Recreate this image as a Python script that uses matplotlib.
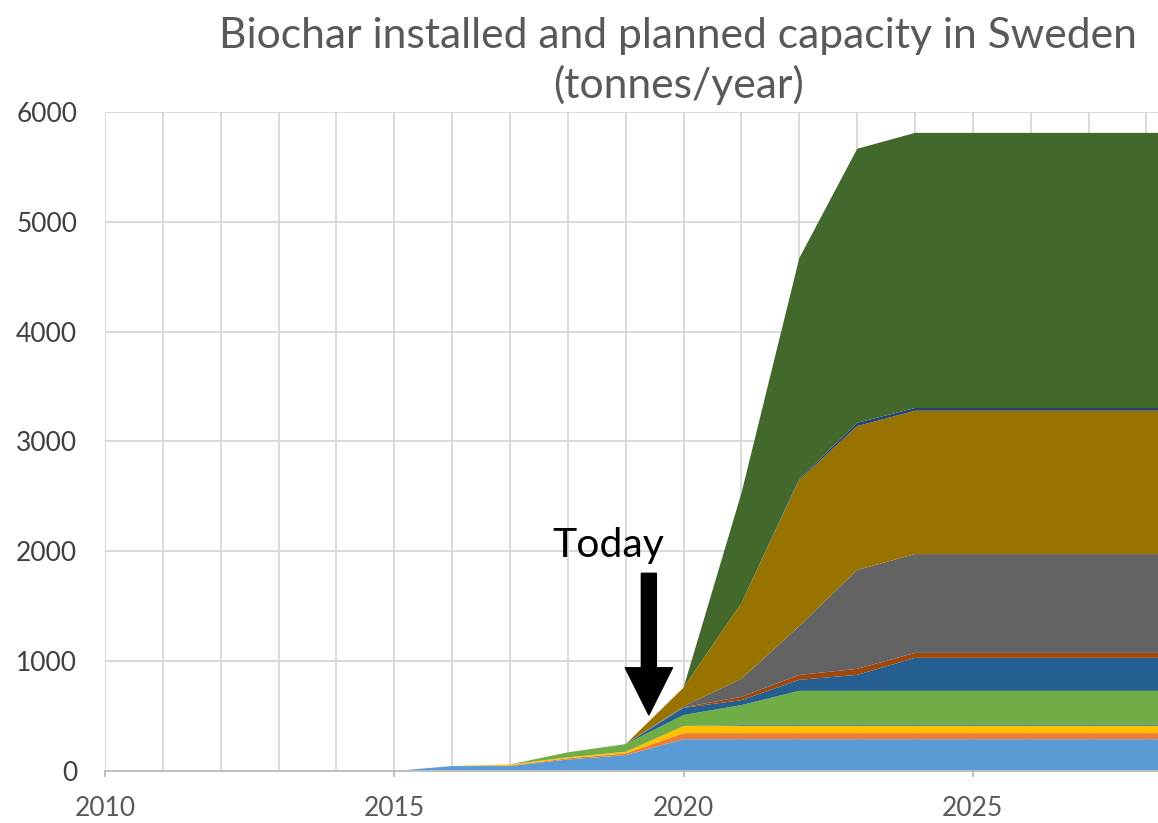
import numpy as np
import matplotlib.pyplot as plt

# -----------------------------
# Data (tonnes/year), stacked bottom -> top
# -----------------------------
years = [2015, 2016, 2017, 2018, 2019, 2020, 2021, 2022, 2023, 2024, 2025, 2026, 2027, 2028, 2029]

s1 = [0, 45, 45, 105, 145, 290, 290, 290, 290, 290, 290, 290, 290, 290, 290]
s2 = [0, 0, 5, 10, 15, 55, 55, 55, 55, 55, 55, 55, 55, 55, 55]
s3 = [0, 0, 10, 10, 15, 65, 65, 65, 65, 65, 65, 65, 65, 65, 65]
s4 = [0, 0, 0, 0, 0, 0, 8, 8, 8, 8, 8, 8, 8, 8, 8]
s5 = [0, 0, 0, 45, 70, 100, 182, 312, 312, 312, 312, 312, 312, 312, 312]
s6 = [0, 0, 0, 0, 0, 65, 45, 100, 145, 300, 300, 300, 300, 300, 300]
s7 = [0, 0, 0, 0, 0, 5, 30, 45, 55, 45, 45, 45, 45, 45, 45]
s8 = [0, 0, 0, 0, 0, 10, 165, 445, 900, 900, 900, 900, 900, 900, 900]
s9 = [0, 0, 0, 0, 0, 170, 690, 1330, 1310, 1305, 1305, 1305, 1305, 1305, 1305]
s10 = [0, 0, 0, 0, 0, 0, 0, 10, 30, 25, 25, 25, 25, 25, 25]
s11 = [0, 0, 0, 0, 0, 0, 1000, 2010, 2495, 2505, 2505, 2505, 2505, 2505, 2505]

series = [s1, s2, s3, s4, s5, s6, s7, s8, s9, s10, s11]
colors = ["#5B9BD5", "#ED7D31", "#FFC000", "#4472C4", "#70AD47", "#255E91",
          "#9E480E", "#636363", "#997300", "#264478", "#43682B"]

y_ticks = [0, 1000, 2000, 3000, 4000, 5000, 6000]
x_ticks = [2010, 2015, 2020, 2025]

# -----------------------------
# Plot
# -----------------------------
plt.rcParams['font.family'] = ['Lato', 'DejaVu Sans']

fig = plt.figure(figsize=(11.58, 8.23), dpi=100)
ax = fig.add_axes([0.0907, 0.0632, 0.9093, 0.8007])

ax.stackplot(years, *series, colors=colors, linewidth=0, zorder=2)

ax.set_xlim(2010, 2028.2)
ax.set_ylim(0, 6000)

# gridlines
for yr in range(2010, 2029):
    ax.axvline(yr, color="#D9D9D9", linewidth=1.4, zorder=1)
for v in y_ticks[1:]:
    ax.axhline(v, color="#D9D9D9", linewidth=1.4, zorder=1)

ax.set_xticks(x_ticks)
ax.set_yticks(y_ticks)
ax.tick_params(axis="x", colors="#BFBFBF", length=4, width=1.4, labelcolor="#595959",
               labelsize=19, pad=14)
ax.tick_params(axis="y", length=0, labelcolor="#404040", labelsize=19, pad=20)

for side in ["top", "right", "left"]:
    ax.spines[side].set_visible(False)
ax.spines["bottom"].set_color("#BFBFBF")
ax.spines["bottom"].set_linewidth(1.4)
ax.spines["bottom"].set_zorder(3)

fig.text(0.5855, 0.926, "Biochar installed and planned capacity in Sweden\n(tonnes/year)",
         ha="center", va="center", fontsize=30.7, color="#595959", linespacing=1.32)

# "Today" marker
ax.text(2018.70, 1950, "Today", fontsize=29.5, color="black", ha="center", va="baseline")
ax.annotate("", xy=(2019.4, 510), xytext=(2019.4, 1800),
            arrowprops=dict(arrowstyle="simple,head_width=3.4,head_length=3.4,tail_width=1.08",
                            mutation_scale=10, color="black", shrinkA=0, shrinkB=0),
            zorder=5)

plt.savefig("out.png", dpi=100)
